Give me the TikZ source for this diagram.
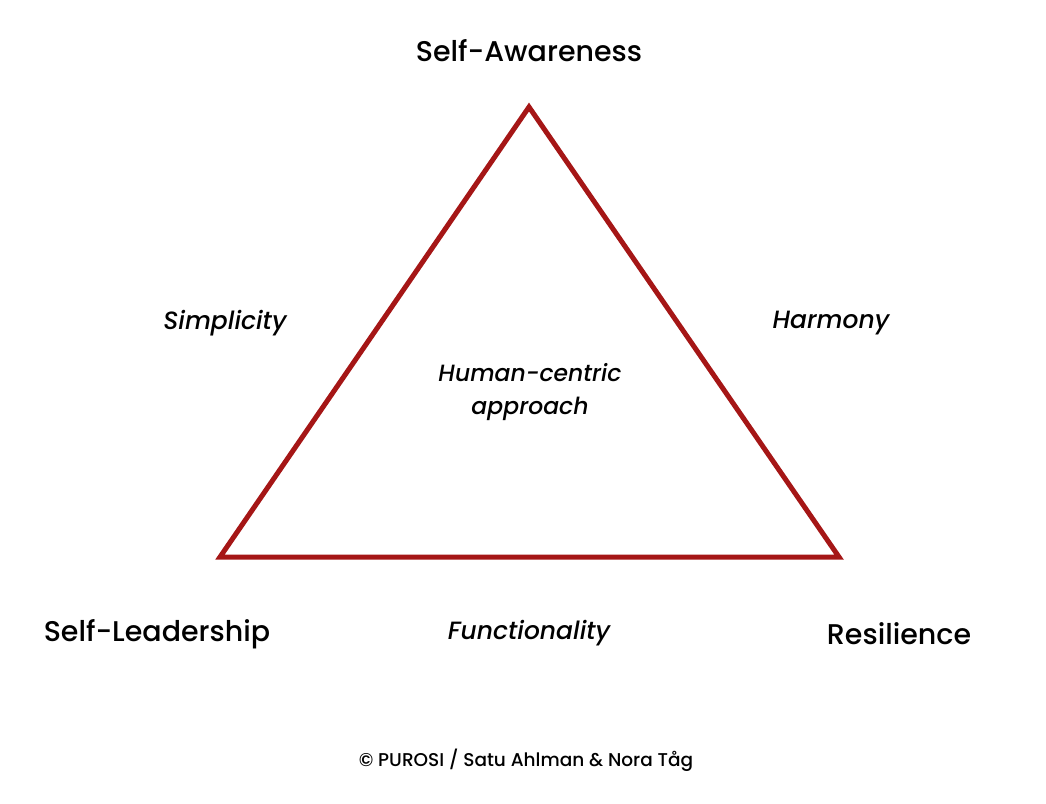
\documentclass[tikz,border=0pt]{standalone}
\usepackage{fontspec}
\setmainfont{Poppins}[UprightFont=* Medium, ItalicFont=* Medium Italic]
\definecolor{tri}{HTML}{A51616}
\begin{document}
\begin{tikzpicture}[x=1pt,y=-1pt,
  big/.style={font=\fontsize{28.5}{30}\selectfont, text=black},
  mid/.style={font=\fontsize{25}{27}\selectfont\itshape, text=black, align=center},
  small/.style={font=\fontsize{18.5}{20}\selectfont, text=black}]
\useasboundingbox (0,0) rectangle (1046,803);
\coordinate (top) at (529,107);
\coordinate (bl) at (220,557);
\coordinate (br) at (839,557);
\draw[tri, line width=5pt, miter limit=10] (top) -- (br) -- (bl) -- cycle;
\node[big] (sa) at (529,51) {Self-Awareness};
\node[big] (sl) at (157,634) {Self-Leadership};
\node[big] (re) at (899,634) {Resilience};
\node[mid] (si) at (225,323) {Simplicity};
\node[mid] (ha) at (831,323) {Harmony};
\node[mid] (fu) at (529,633) {Functionality};
\node[mid, font=\fontsize{23.5}{33}\selectfont\itshape] (hc) at (530,392) {Human-centric\\approach};
\node[small] (cp) at (526,760) {© PUROSI / Satu Ahlman \& Nora Tåg};
\end{tikzpicture}
\end{document}
